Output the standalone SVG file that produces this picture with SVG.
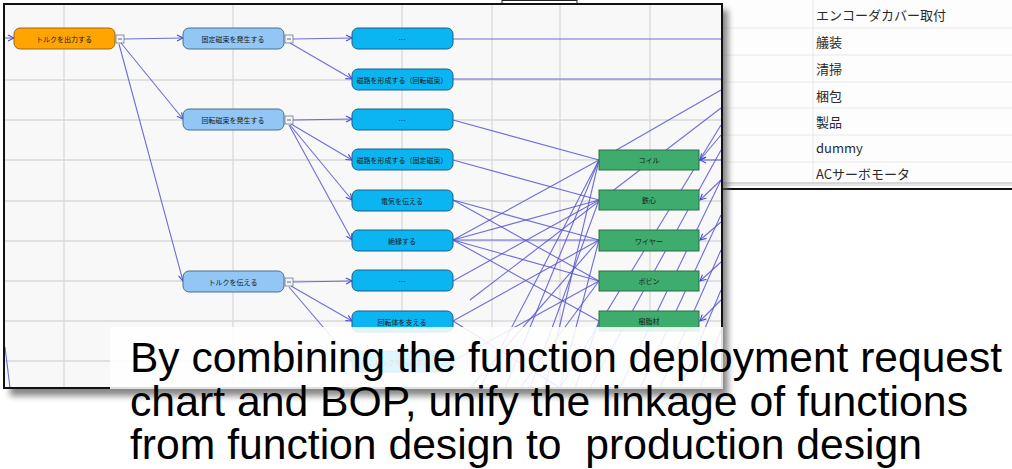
<svg xmlns="http://www.w3.org/2000/svg" width="1012" height="469" viewBox="0 0 1012 469">
<style>
.grid{stroke:#d9d9d9;stroke-width:1.3}
.row{stroke:#e8e8e8;stroke-width:1}
.tbl{font-family:"Noto Sans CJK JP","Noto Sans",sans-serif;font-size:13px;fill:#2a2a2a}
.lbl{font-family:"Noto Sans CJK JP","Noto Sans",sans-serif;font-size:7px;fill:#1a1a1a;text-anchor:middle;dominant-baseline:central}
.or{fill:#ffa400;stroke:#9a6a10;stroke-width:1}
.lb{fill:#91c6f5;stroke:#4b6f8f;stroke-width:1}
.cy{fill:#0bb5f2;stroke:#1b5f86;stroke-width:1}
.gr{fill:#3dac6c;stroke:#2a6e48;stroke-width:1}
.box{fill:#f4f6fa;stroke:#6a7a90;stroke-width:0.8}
.con line,.con path{stroke:#5555d2;stroke-width:1.1;fill:none;stroke-opacity:0.85}
.big{font-family:"Liberation Sans",Arial,sans-serif;font-size:43px;fill:#000}
</style>
<defs>
<marker id="arr" markerWidth="8" markerHeight="8" refX="7" refY="4" orient="auto" markerUnits="userSpaceOnUse">
<path d="M1,1 L7,4 L1,7" fill="none" stroke="#4a4ad0" stroke-width="1.1"/>
</marker>
<filter id="sh" x="-5%" y="-5%" width="110%" height="110%"><feGaussianBlur stdDeviation="3"/></filter>
</defs>
<rect width="1012" height="469" fill="#ffffff"/>
<!-- right table -->
<g id="table">
<rect x="722" y="0" width="290" height="189" fill="#fdfdfd"/>
<line class="row" x1="813" y1="0" x2="813" y2="183"/>
<line class="row" x1="722" y1="28" x2="1012" y2="28"/>
<line class="row" x1="722" y1="55" x2="1012" y2="55"/>
<line class="row" x1="722" y1="82" x2="1012" y2="82"/>
<line class="row" x1="722" y1="108" x2="1012" y2="108"/>
<line class="row" x1="722" y1="135" x2="1012" y2="135"/>
<line class="row" x1="722" y1="162" x2="1012" y2="162"/>
<line x1="722" y1="183" x2="1012" y2="183" stroke="#b0b0b0" stroke-width="1"/>
<line x1="722" y1="185" x2="1012" y2="185" stroke="#d0d0d0" stroke-width="1"/>
<line x1="722" y1="189" x2="1012" y2="189" stroke="#111" stroke-width="2"/>
<text class="tbl" x="816" y="20">エンコーダカバー取付</text>
<text class="tbl" x="816" y="47">艤装</text>
<text class="tbl" x="816" y="74">清掃</text>
<text class="tbl" x="816" y="101">梱包</text>
<text class="tbl" x="816" y="127">製品</text>
<text class="tbl" x="816" y="153">dummy</text>
<text class="tbl" x="816" y="179">ACサーボモータ</text>
</g>
<!-- top strip -->
<path d="M502,0 V4 M577,0 V4 M502,0.5 H577" stroke="#222" stroke-width="1" fill="none"/>
<!-- panel shadow -->
<rect x="10" y="10" width="718" height="386" fill="#555" opacity="0.7" filter="url(#sh)"/>
<!-- panel -->
<rect x="4" y="4" width="718" height="384" fill="#f8f8f8"/>
<g id="grid">
<line class="grid" x1="64" y1="5" x2="64" y2="387"/>
<line class="grid" x1="233" y1="5" x2="233" y2="387"/>
<line class="grid" x1="402" y1="5" x2="402" y2="387"/>
<line class="grid" x1="492" y1="5" x2="492" y2="387"/>
<line class="grid" x1="560" y1="5" x2="560" y2="387"/>
<line class="grid" x1="650" y1="5" x2="650" y2="387"/>
<line class="grid" x1="5" y1="80" x2="721" y2="80"/>
<line class="grid" x1="5" y1="120" x2="721" y2="120"/>
<line class="grid" x1="5" y1="160" x2="721" y2="160"/>
<line class="grid" x1="5" y1="201" x2="721" y2="201"/>
<line class="grid" x1="5" y1="241" x2="721" y2="241"/>
<line class="grid" x1="5" y1="281" x2="721" y2="281"/>
<line class="grid" x1="5" y1="321" x2="721" y2="321"/>
<line class="grid" x1="5" y1="361" x2="721" y2="361"/>
</g>
<g id="connectors" class="con">
<line x1="5" y1="38" x2="14" y2="38" marker-end="url(#arr)"/>
<line x1="124" y1="39" x2="183" y2="38" marker-end="url(#arr)"/>
<line x1="121" y1="43" x2="183" y2="119" marker-end="url(#arr)"/>
<line x1="119" y1="44" x2="183" y2="281" marker-end="url(#arr)"/>
<line x1="293" y1="39" x2="352" y2="38" marker-end="url(#arr)"/>
<line x1="290" y1="43" x2="352" y2="79" marker-end="url(#arr)"/>
<line x1="293" y1="120" x2="352" y2="119" marker-end="url(#arr)"/>
<line x1="291" y1="124" x2="352" y2="160" marker-end="url(#arr)"/>
<line x1="290" y1="125" x2="352" y2="200" marker-end="url(#arr)"/>
<line x1="289" y1="125" x2="352" y2="240" marker-end="url(#arr)"/>
<line x1="293" y1="282" x2="352" y2="281" marker-end="url(#arr)"/>
<line x1="291" y1="286" x2="352" y2="321" marker-end="url(#arr)"/>
<line x1="289" y1="287" x2="352" y2="361" marker-end="url(#arr)"/>
<line x1="5" y1="347" x2="10" y2="388"/>
<line x1="453" y1="39" x2="721" y2="39"/>
<line x1="453" y1="79" x2="721" y2="79"/>
<line x1="453" y1="120" x2="599" y2="160"/>
<line x1="453" y1="160" x2="599" y2="200"/>
<line x1="453" y1="200" x2="599" y2="240"/>
<line x1="453" y1="200" x2="599" y2="281"/>
<line x1="453" y1="240" x2="599" y2="160"/>
<line x1="453" y1="240" x2="599" y2="200"/>
<line x1="453" y1="240" x2="599" y2="240"/>
<line x1="453" y1="240" x2="599" y2="281"/>
<line x1="453" y1="240" x2="599" y2="321"/>
<line x1="453" y1="281" x2="599" y2="200"/>
<line x1="453" y1="321" x2="599" y2="240"/>
<line x1="453" y1="321" x2="560" y2="388"/>
<line x1="453" y1="361" x2="599" y2="281"/>
<line x1="480" y1="388" x2="599" y2="160"/>
<line x1="505" y1="388" x2="599" y2="160"/>
<line x1="545" y1="388" x2="599" y2="160"/>
<line x1="530" y1="388" x2="599" y2="200"/>
<line x1="470" y1="388" x2="599" y2="240"/>
<line x1="560" y1="388" x2="599" y2="240"/>
<line x1="520" y1="388" x2="599" y2="281"/>
<line x1="575" y1="388" x2="599" y2="321"/>
<line x1="599" y1="160" x2="721" y2="90"/>
<line x1="470" y1="300" x2="721" y2="108"/>
<line x1="560" y1="388" x2="721" y2="125"/>
<line x1="590" y1="388" x2="721" y2="150"/>
<line x1="620" y1="388" x2="721" y2="180"/>
<line x1="640" y1="388" x2="721" y2="215"/>
<line x1="660" y1="388" x2="721" y2="250"/>
<line x1="680" y1="388" x2="721" y2="290"/>
<line x1="700" y1="388" x2="721" y2="330"/>
<line x1="721" y1="160" x2="700" y2="160" marker-end="url(#arr)"/>
<line x1="721" y1="135" x2="700" y2="160" marker-end="url(#arr)"/>
<line x1="721" y1="180" x2="700" y2="200" marker-end="url(#arr)"/>
<line x1="721" y1="222" x2="700" y2="240" marker-end="url(#arr)"/>
<line x1="721" y1="262" x2="700" y2="281" marker-end="url(#arr)"/>
<line x1="721" y1="300" x2="700" y2="321" marker-end="url(#arr)"/>
</g>
<g id="n_torque_out"><rect class="or" x="14" y="28" width="101" height="21" rx="6"/><text class="lbl" x="64" y="38.5">トルクを出力する</text><rect class="box" x="116" y="35" width="8" height="8"/><path d="M118,39 H122" stroke="#445" stroke-width="0.8"/></g>
<g id="n_fixed_flux"><rect class="lb" x="183" y="28" width="101" height="21" rx="6"/><text class="lbl" x="233" y="38.5">固定磁束を発生する</text><rect class="box" x="285" y="35" width="8" height="8"/><path d="M287,39 H291" stroke="#445" stroke-width="0.8"/></g>
<g id="n_rot_flux"><rect class="lb" x="183" y="109" width="101" height="21" rx="6"/><text class="lbl" x="233" y="119.5">回転磁束を発生する</text><rect class="box" x="285" y="116" width="8" height="8"/><path d="M287,120 H291" stroke="#445" stroke-width="0.8"/></g>
<g id="n_torque_tr"><rect class="lb" x="183" y="271" width="101" height="21" rx="6"/><text class="lbl" x="233" y="281.5">トルクを伝える</text><rect class="box" x="285" y="278" width="8" height="8"/><path d="M287,282 H291" stroke="#445" stroke-width="0.8"/></g>
<g id="n_c3_1"><rect class="cy" x="352" y="28" width="101" height="21" rx="6"/><text class="lbl" x="402" y="38.5">…</text></g>
<g id="n_c3_2"><rect class="cy" x="352" y="69" width="101" height="21" rx="6"/><text class="lbl" x="402" y="79.5">磁路を形成する（回転磁束）</text></g>
<g id="n_c3_3"><rect class="cy" x="352" y="109" width="101" height="21" rx="6"/><text class="lbl" x="402" y="119.5">…</text></g>
<g id="n_c3_4"><rect class="cy" x="352" y="149" width="101" height="21" rx="6"/><text class="lbl" x="402" y="159.5">磁路を形成する（固定磁束）</text></g>
<g id="n_c3_5"><rect class="cy" x="352" y="190" width="101" height="21" rx="6"/><text class="lbl" x="402" y="200.5">電気を伝える</text></g>
<g id="n_c3_6"><rect class="cy" x="352" y="230" width="101" height="21" rx="6"/><text class="lbl" x="402" y="240.5">絶縁する</text></g>
<g id="n_c3_7"><rect class="cy" x="352" y="270" width="101" height="21" rx="6"/><text class="lbl" x="402" y="280.5">…</text></g>
<g id="n_c3_8"><rect class="cy" x="352" y="311" width="101" height="21" rx="6"/><text class="lbl" x="402" y="321.5">回転体を支える</text></g>
<g id="n_c3_9"><rect class="cy" x="352" y="351" width="101" height="21" rx="6"/><text class="lbl" x="402" y="361.5">トルクを伝達する</text></g>
<g id="n_coil"><rect class="gr" x="599" y="150" width="100" height="20"/><text class="lbl" x="649" y="160">コイル</text></g>
<g id="n_core"><rect class="gr" x="599" y="190" width="100" height="20"/><text class="lbl" x="649" y="200">鉄心</text></g>
<g id="n_wire"><rect class="gr" x="599" y="230" width="100" height="21"/><text class="lbl" x="649" y="240.5">ワイヤー</text></g>
<g id="n_bobbin"><rect class="gr" x="599" y="271" width="100" height="20"/><text class="lbl" x="649" y="281">ボビン</text></g>
<g id="n_resin"><rect class="gr" x="599" y="311" width="100" height="20"/><text class="lbl" x="649" y="321">樹脂材</text></g>
<!-- panel border -->
<rect x="4" y="4" width="718" height="384" fill="none" stroke="#111" stroke-width="2"/>
<!-- caption overlay -->
<rect x="110" y="327" width="613" height="62" fill="#ffffff" opacity="0.87"/>
<g id="caption">
<text class="big" x="130" y="372" textLength="872" lengthAdjust="spacingAndGlyphs">By combining the function deployment request</text>
<text class="big" x="130" y="416" textLength="838" lengthAdjust="spacingAndGlyphs">chart and BOP, unify the linkage of functions</text>
<text class="big" x="130" y="459" textLength="792" lengthAdjust="spacingAndGlyphs" xml:space="preserve">from function design to  production design</text>
</g>
</svg>
